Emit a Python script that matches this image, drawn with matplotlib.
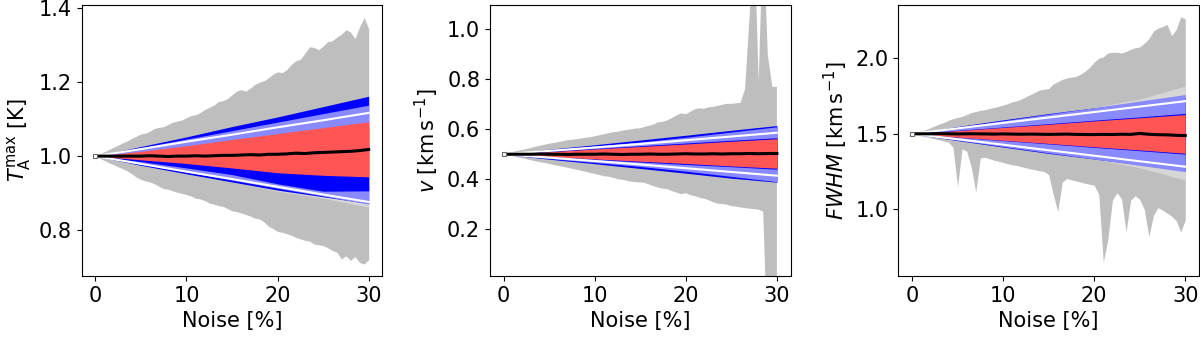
import numpy as np
import matplotlib
matplotlib.use('Agg')
import matplotlib.pyplot as plt

# x grids (noise level in %)
noise_fine = np.arange(0, 30.5, 0.5)
noise_med = np.arange(0, 31, 1)
noise_band = [0, 5, 10, 15, 20, 25, 30]

# ---------------- T_A^max panel ----------------
t_gray_hi = [1.000, 1.006, 1.012, 1.018, 1.024, 1.030, 1.036, 1.041, 1.048, 1.054,
             1.060, 1.062, 1.068, 1.075, 1.078, 1.080, 1.086, 1.092, 1.095, 1.098,
             1.104, 1.110, 1.112, 1.118, 1.126, 1.132, 1.138, 1.148, 1.150, 1.156,
             1.166, 1.176, 1.180, 1.176, 1.184, 1.194, 1.200, 1.204, 1.212, 1.222,
             1.228, 1.226, 1.234, 1.248, 1.258, 1.262, 1.278, 1.296, 1.294, 1.288,
             1.298, 1.310, 1.312, 1.322, 1.330, 1.342, 1.336, 1.318, 1.350, 1.375,
             1.345]
t_gray_lo = [1.000, 0.994, 0.988, 0.982, 0.977, 0.971, 0.966, 0.960, 0.952, 0.943,
             0.937, 0.933, 0.930, 0.925, 0.918, 0.912, 0.910, 0.906, 0.902, 0.899,
             0.896, 0.892, 0.886, 0.884, 0.880, 0.873, 0.870, 0.866, 0.864, 0.858,
             0.852, 0.850, 0.846, 0.842, 0.838, 0.832, 0.830, 0.822, 0.810, 0.804,
             0.796, 0.794, 0.790, 0.786, 0.780, 0.776, 0.772, 0.770, 0.762, 0.760,
             0.758, 0.752, 0.745, 0.740, 0.722, 0.730, 0.718, 0.728, 0.712, 0.708,
             0.720]
t_median = [1.000, 1.000, 1.000, 1.000, 1.000, 1.000, 1.001, 1.000, 0.999, 1.000,
            1.000, 1.001, 1.000, 1.001, 1.002, 1.002, 1.003, 1.004, 1.003, 1.005,
            1.005, 1.006, 1.008, 1.007, 1.009, 1.010, 1.011, 1.012, 1.013, 1.015,
            1.018]
t_lgray_lo = [1.0, 0.975, 0.952, 0.930, 0.905, 0.886, 0.862]
t_lgray_hi = [1.0, 1.020, 1.044, 1.066, 1.090, 1.113, 1.136]
t_blue_lo = [1.0, 0.975, 0.952, 0.930, 0.908, 0.890, 0.872]
t_blue_hi = [1.0, 1.026, 1.052, 1.080, 1.106, 1.134, 1.162]
t_lblue_lo = [1.0, 0.978, 0.957, 0.935, 0.913, 0.892, 0.870]
t_lblue_hi = [1.0, 1.023, 1.046, 1.069, 1.092, 1.115, 1.138]
t_blue2_lo = [1.0, 0.985, 0.968, 0.950, 0.925, 0.905, 0.906]
t_blue2_hi = [1.0, 1.010, 1.020, 1.030, 1.045, 1.060, 1.080]
t_white_lo = [1.0, 0.979, 0.958, 0.938, 0.917, 0.896, 0.876]
t_white_hi = [1.0, 1.019, 1.039, 1.058, 1.078, 1.097, 1.117]
t_red_lo = [1.0, 0.990, 0.980, 0.968, 0.955, 0.948, 0.944]
t_red_hi = [1.0, 1.013, 1.028, 1.045, 1.061, 1.077, 1.093]

# ---------------- v panel ----------------
v_gray_hi = [0.500, 0.504, 0.509, 0.513, 0.517, 0.521, 0.525, 0.530, 0.534, 0.538,
             0.542, 0.545, 0.549, 0.552, 0.556, 0.558, 0.560, 0.563, 0.566, 0.568,
             0.572, 0.576, 0.580, 0.584, 0.588, 0.590, 0.594, 0.597, 0.600, 0.603,
             0.604, 0.610, 0.614, 0.620, 0.628, 0.630, 0.636, 0.645, 0.656, 0.664,
             0.660, 0.670, 0.680, 0.684, 0.682, 0.688, 0.690, 0.694, 0.698, 0.702,
             0.702, 0.704, 0.706, 0.760, 1.050, 1.400, 0.790, 1.400, 0.900, 0.770,
             0.770]
v_gray_lo = [0.500, 0.496, 0.492, 0.488, 0.484, 0.480, 0.476, 0.472, 0.468, 0.465,
             0.461, 0.457, 0.453, 0.450, 0.446, 0.442, 0.438, 0.434, 0.430, 0.425,
             0.421, 0.417, 0.412, 0.410, 0.406, 0.400, 0.398, 0.394, 0.390, 0.388,
             0.387, 0.385, 0.378, 0.372, 0.366, 0.362, 0.360, 0.352, 0.346, 0.340,
             0.344, 0.336, 0.332, 0.326, 0.322, 0.316, 0.308, 0.302, 0.300, 0.298,
             0.292, 0.290, 0.287, 0.284, 0.282, 0.280, 0.278, 0.270, -0.300, -0.400,
             -0.400]
v_median = [0.500, 0.500, 0.500, 0.500, 0.501, 0.500, 0.500, 0.499, 0.500, 0.500,
            0.500, 0.501, 0.500, 0.499, 0.500, 0.500, 0.501, 0.500, 0.500, 0.501,
            0.502, 0.501, 0.501, 0.502, 0.501, 0.502, 0.502, 0.503, 0.502, 0.503,
            0.503]
v_lgray_lo = [0.5, 0.483, 0.467, 0.451, 0.432, 0.411, 0.390]
v_lgray_hi = [0.5, 0.517, 0.533, 0.549, 0.568, 0.589, 0.610]
v_blue_lo = [0.5, 0.480, 0.462, 0.443, 0.424, 0.404, 0.388]
v_blue_hi = [0.5, 0.520, 0.538, 0.557, 0.576, 0.596, 0.615]
v_lblue_lo = [0.5, 0.483, 0.467, 0.451, 0.432, 0.411, 0.390]
v_lblue_hi = [0.5, 0.517, 0.533, 0.549, 0.568, 0.589, 0.610]
v_blue2_lo = [0.5, 0.489, 0.479, 0.469, 0.459, 0.450, 0.440]
v_blue2_hi = [0.5, 0.512, 0.523, 0.534, 0.545, 0.556, 0.566]
v_white_lo = [0.5, 0.4865, 0.473, 0.459, 0.444, 0.429, 0.414]
v_white_hi = [0.5, 0.5135, 0.527, 0.541, 0.556, 0.571, 0.586]
v_red_lo = [0.5, 0.491, 0.481, 0.472, 0.463, 0.453, 0.444]
v_red_hi = [0.5, 0.510, 0.521, 0.531, 0.541, 0.552, 0.562]

# ---------------- FWHM panel ----------------
w_gray_hi = [1.500, 1.510, 1.518, 1.527, 1.540, 1.552, 1.565, 1.575, 1.590, 1.600,
             1.608, 1.615, 1.628, 1.640, 1.648, 1.655, 1.660, 1.668, 1.675, 1.682,
             1.690, 1.700, 1.712, 1.718, 1.730, 1.745, 1.760, 1.775, 1.790, 1.795,
             1.800, 1.830, 1.845, 1.860, 1.870, 1.875, 1.880, 1.895, 1.915, 1.940,
             1.975, 2.000, 2.010, 2.035, 2.040, 2.040, 2.035, 2.045, 2.060, 2.070,
             2.075, 2.100, 2.130, 2.180, 2.200, 2.210, 2.225, 2.150, 2.190, 2.275,
             2.260]
w_gray_lo = [1.500, 1.493, 1.486, 1.480, 1.474, 1.466, 1.460, 1.452, 1.445, 1.410,
             1.150, 1.400, 1.385, 1.280, 1.116, 1.340, 1.345, 1.335, 1.325, 1.318,
             1.310, 1.302, 1.295, 1.290, 1.282, 1.275, 1.268, 1.262, 1.255, 1.250,
             1.230, 1.100, 0.985, 1.180, 1.204, 1.195, 1.188, 1.180, 1.172, 1.166,
             1.160, 1.100, 0.650, 0.800, 1.060, 1.110, 1.070, 0.850, 1.060, 1.090,
             1.065, 1.000, 0.820, 0.960, 1.010, 0.995, 0.975, 0.955, 0.925, 0.850,
             0.930]
w_median = [1.500, 1.500, 1.500, 1.501, 1.500, 1.499, 1.500, 1.500, 1.499, 1.498,
            1.499, 1.498, 1.497, 1.498, 1.497, 1.496, 1.497, 1.498, 1.496, 1.495,
            1.495, 1.496, 1.495, 1.497, 1.496, 1.502, 1.497, 1.494, 1.493, 1.490,
            1.488]
w_lgray_lo = [1.5, 1.458, 1.416, 1.374, 1.333, 1.275, 1.193]
w_lgray_hi = [1.5, 1.543, 1.587, 1.630, 1.675, 1.730, 1.816]
w_blue_lo = [1.5, 1.455, 1.412, 1.370, 1.333, 1.295, 1.258]
w_blue_hi = [1.5, 1.548, 1.592, 1.634, 1.672, 1.708, 1.742]
w_lblue_lo = [1.5, 1.458, 1.416, 1.374, 1.333, 1.291, 1.249]
w_lblue_hi = [1.5, 1.543, 1.587, 1.630, 1.673, 1.717, 1.760]
w_blue2_lo = [1.5, 1.477, 1.455, 1.433, 1.410, 1.388, 1.365]
w_blue2_hi = [1.5, 1.523, 1.545, 1.567, 1.590, 1.612, 1.635]
w_white_lo = [1.5, 1.464, 1.428, 1.391, 1.355, 1.318, 1.282]
w_white_hi = [1.5, 1.536, 1.572, 1.608, 1.644, 1.680, 1.716]
w_red_lo = [1.5, 1.478, 1.457, 1.436, 1.414, 1.393, 1.371]
w_red_hi = [1.5, 1.521, 1.542, 1.563, 1.585, 1.606, 1.627]

ylabels = [r'$T_\mathrm{A}^\mathrm{max}$ [K]',
           r'$v$ [km$\,$s$^{-1}$]',
           r'$FWHM$ [km$\,$s$^{-1}$]']
ylims = [(0.6755, 1.409), (0.012, 1.098), (0.558, 2.353)]
yticks = [[0.8, 1.0, 1.2, 1.4], [0.2, 0.4, 0.6, 0.8, 1.0], [1.0, 1.5, 2.0]]

panels = [
    (t_gray_lo, t_gray_hi, t_median, t_lgray_lo, t_lgray_hi, t_blue_lo, t_blue_hi,
     t_lblue_lo, t_lblue_hi, t_blue2_lo, t_blue2_hi, t_white_lo, t_white_hi, t_red_lo, t_red_hi),
    (v_gray_lo, v_gray_hi, v_median, v_lgray_lo, v_lgray_hi, v_blue_lo, v_blue_hi,
     v_lblue_lo, v_lblue_hi, v_blue2_lo, v_blue2_hi, v_white_lo, v_white_hi, v_red_lo, v_red_hi),
    (w_gray_lo, w_gray_hi, w_median, w_lgray_lo, w_lgray_hi, w_blue_lo, w_blue_hi,
     w_lblue_lo, w_lblue_hi, w_blue2_lo, w_blue2_hi, w_white_lo, w_white_hi, w_red_lo, w_red_hi),
]

plt.rcParams['font.size'] = 15
fig = plt.figure(figsize=(12, 3.38), dpi=100)
lefts = [0.0681, 0.4083, 0.7486]

for i, p in enumerate(panels):
    (g_lo, g_hi, med, lg_lo, lg_hi, b_lo, b_hi, lb_lo, lb_hi,
     b2_lo, b2_hi, wh_lo, wh_hi, r_lo, r_hi) = p
    ax = fig.add_axes([lefts[i], 0.1834, 0.2505, 0.8018])
    ax.fill_between(noise_fine, g_lo, g_hi, color='#bebebe', lw=0)
    ax.fill_between(noise_band, lg_lo, lg_hi, color='#d6d6d6', lw=0)
    ax.fill_between(noise_band, b_lo, b_hi, color='#0000ff', lw=0)
    ax.fill_between(noise_band, lb_lo, lb_hi, color='#8a8aff', lw=0)
    ax.fill_between(noise_band, b2_lo, b2_hi, color='#0000ff', lw=0)
    ax.plot(noise_band, wh_lo, color='white', lw=1.5)
    ax.plot(noise_band, wh_hi, color='white', lw=1.5)
    ax.fill_between(noise_band, r_lo, r_hi, color='#ff5555', lw=0)
    ax.plot(noise_med, med, color='black', lw=2.2)
    ax.plot(noise_med[0], med[0], marker='s', ms=3, mfc='white', mec='dimgray', mew=0.8)
    ax.set_xlim(-1.5, 31.5)
    ax.set_ylim(*ylims[i])
    ax.set_xticks([0, 10, 20, 30])
    ax.set_yticks(yticks[i])
    ax.set_xlabel('Noise [%]')
    ax.set_ylabel(ylabels[i])

fig.savefig('out.png', dpi=100)
